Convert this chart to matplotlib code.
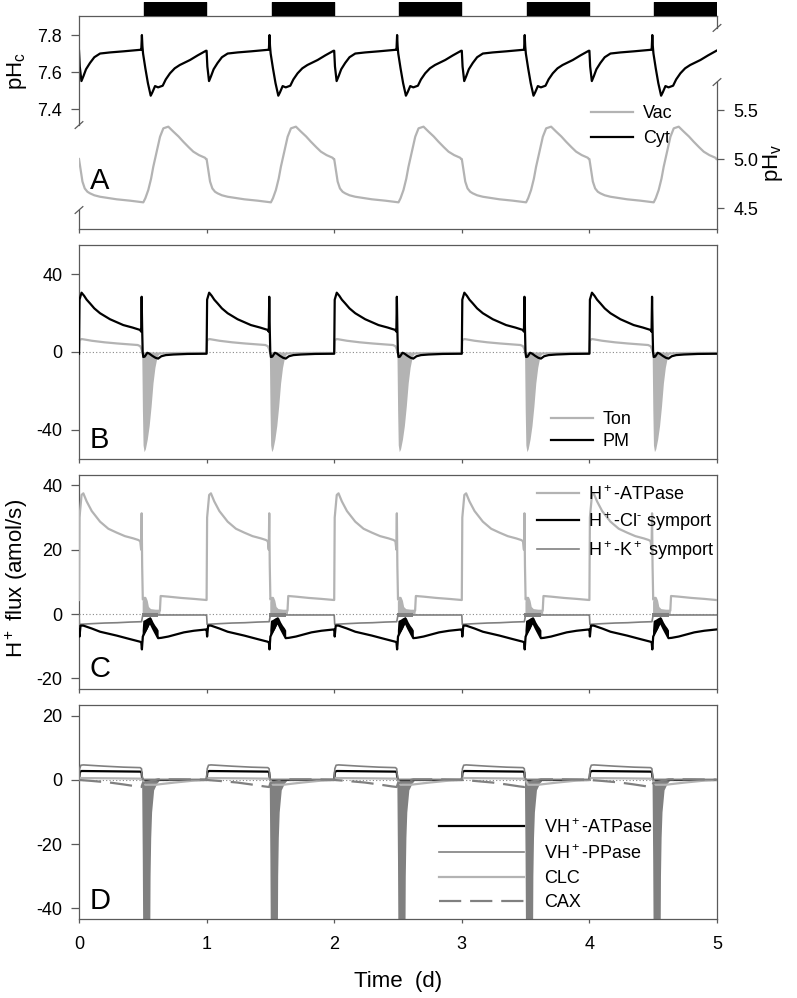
import numpy as np
import matplotlib.pyplot as plt

plt.rcParams['font.family'] = ['Liberation Sans', 'DejaVu Sans']
plt.rcParams['mathtext.fontset'] = 'custom'
plt.rcParams['mathtext.rm'] = 'Liberation Sans'
plt.rcParams['mathtext.it'] = 'Liberation Sans:italic'
plt.rcParams['mathtext.default'] = 'regular'
plt.rcParams['axes.unicode_minus'] = False

N_DAYS = 5
dark_start = [0.51, 1.51, 2.51, 3.51, 4.51]
dark_len = 0.485

# --- one daily cycle of each trace (t in days) ---
# A: cytosolic pH (left axis) and vacuolar pH (right axis)
phc_t = [0.0, 0.006, 0.019, 0.035, 0.055, 0.086, 0.12, 0.165, 0.243, 0.35, 0.478, 0.488, 0.493,
         0.497, 0.502, 0.52, 0.54, 0.562, 0.575, 0.596, 0.62, 0.656, 0.68, 0.713, 0.75, 0.79,
         0.87, 0.93, 0.995]
phc_v = [7.715, 7.63, 7.551, 7.578, 7.615, 7.649, 7.68, 7.70, 7.706, 7.712, 7.72, 7.72, 7.80,
         7.74, 7.70, 7.62, 7.54, 7.472, 7.49, 7.524, 7.517, 7.526, 7.56, 7.593, 7.62, 7.638,
         7.665, 7.69, 7.715]
vac_t = [0.0, 0.006, 0.027, 0.045, 0.066, 0.086, 0.12, 0.165, 0.295, 0.40, 0.504, 0.52, 0.543,
         0.565, 0.582, 0.61, 0.635, 0.661, 0.70, 0.739, 0.78, 0.817, 0.86, 0.896, 0.94, 0.987, 0.995]
vac_v = [5.00, 4.95, 4.77, 4.70, 4.666, 4.65, 4.63, 4.615, 4.589, 4.575, 4.558, 4.60, 4.684,
         4.80, 4.92, 5.08, 5.227, 5.313, 5.33, 5.28, 5.23, 5.177, 5.12, 5.075, 5.04, 5.013, 5.00]

# B: tonoplast and plasma membrane flux
pm_t = [0.0, 0.004, 0.02, 0.04, 0.06, 0.086, 0.12, 0.165, 0.243, 0.347, 0.42, 0.478, 0.487,
        0.491, 0.495, 0.499, 0.504, 0.515, 0.535, 0.55, 0.575, 0.60, 0.62, 0.645, 0.68, 0.74,
        0.85, 0.995]
pm_v = [-0.9, 27, 30.6, 29, 27, 25.1, 22.5, 20, 16.9, 13.9, 12.6, 11.4, 10.5, 28.5, 12, 0,
        -2.6, -2.4, -0.4, -0.8, -2.0, -3.0, -3.4, -2.2, -1.6, -1.3, -1.0, -0.9]
ton_t = [0.0, 0.004, 0.02, 0.1, 0.2, 0.3, 0.4, 0.46, 0.48, 0.49, 0.50, 0.53, 0.58, 0.62, 0.7,
         0.8, 0.995]
ton_v = [-0.5, 6.0, 6.7, 5.8, 5.0, 4.4, 3.9, 3.6, 3.0, 1.5, -0.8, -0.6, -0.8, -0.8, -0.6,
         -0.5, -0.5]
ton_fill_t = [0.492, 0.497, 0.502, 0.51, 0.52, 0.535, 0.55, 0.565, 0.58, 0.595, 0.61, 0.625]
ton_fill_lo = [-2, -30, -48, -51.4, -50, -45, -38, -28, -16, -8, -3, -1]
ton_fill_hi = [-0.5, -0.5, -0.5, -0.5, -0.5, -0.5, -0.5, -0.5, -0.5, -0.5, -0.5, -0.5]

# C: plasma membrane transporters
atp_t = [0.0, 0.004, 0.02, 0.034, 0.06, 0.1, 0.165, 0.23, 0.295, 0.36, 0.426, 0.465, 0.48,
         0.487, 0.491, 0.495, 0.50, 0.51, 0.52, 0.53, 0.54, 0.56, 0.60, 0.634, 0.64, 0.7, 0.8,
         0.9, 0.995]
atp_v = [4.35, 30, 37, 37.5, 35, 32, 28.7, 26.5, 25.3, 24.2, 23.5, 23, 22.6, 20, 31.3, 15, 4.5,
         5.0, 5.0, 4.0, 2.0, 1.2, 1.0, 1.0, 5.6, 5.4, 5.0, 4.7, 4.35]
atp_fill_t = [0.495, 0.50, 0.51, 0.52, 0.53, 0.54, 0.56, 0.60, 0.634]
atp_fill_lo = [0, 0, 0, 0, 0, 0, 0, 0, 0]
atp_fill_hi = [4, 4.5, 5.0, 5.0, 4.0, 2.0, 1.2, 1.0, 1.0]
cl_t = [0.0, 0.004, 0.012, 0.034, 0.1, 0.165, 0.295, 0.4, 0.478, 0.488, 0.493, 0.50, 0.53,
        0.556, 0.58, 0.60, 0.62, 0.645, 0.7, 0.822, 0.9, 0.995]
cl_v = [-4.8, -7.0, -3.6, -3.6, -4.5, -5.5, -6.7, -7.8, -8.6, -8.8, -11.0, -7.0, -4.5, -2.5,
        -4.5, -6.0, -7.5, -7.4, -7.0, -5.7, -5.2, -4.8]
cl_fill_t = [0.495, 0.50, 0.51, 0.52, 0.535, 0.55, 0.556, 0.565, 0.58, 0.595, 0.61, 0.62]
cl_fill_hi = [-5, -2.0, -1.8, -1.6, -1.2, -0.9, -0.8, -1.2, -2.5, -3.5, -4.3, -5]
cl_fill_lo = [-11, -7, -6, -5.5, -4.5, -3, -2.5, -3.0, -4.5, -6.0, -7.0, -7.5]
k_t = [0.0, 0.004, 0.1, 0.2, 0.3, 0.4, 0.478, 0.49, 0.50, 0.62, 0.995]
k_v = [-0.3, -3.2, -3.0, -2.8, -2.7, -2.5, -2.4, -2.4, -0.3, -0.3, -0.3]
k_fill_t = [0.49, 0.62]
k_fill_lo = [-1.0, -1.0]
k_fill_hi = [0.3, 0.3]

# D: tonoplast transporters
va_t = [0.0, 0.006, 0.02, 0.48, 0.49, 0.495, 0.5, 0.995]
va_v = [0.0, 2.5, 2.8, 2.6, 2.4, 0.5, 0.0, 0.0]
pp_t = [0.0, 0.005, 0.015, 0.034, 0.2, 0.35, 0.48, 0.49, 0.495, 0.5, 0.995]
pp_v = [0.1, 3.5, 4.6, 4.7, 4.3, 4.0, 3.85, 3.5, 1.0, 0.1, 0.1]
clc_t = [0.0, 0.01, 0.3, 0.49, 0.50, 0.52, 0.6, 0.64, 0.75, 0.9, 0.995]
clc_v = [0.0, 0.6, 0.5, 0.4, 0.0, -1.5, -1.5, -1.3, -0.8, -0.2, 0.0]
cax_t = [0.0, 0.1, 0.24, 0.35, 0.45, 0.49, 0.50, 0.62, 0.8, 0.995]
cax_v = [0.0, -0.3, -0.8, -1.4, -2.0, -2.2, -1.0, 0.2, 0.2, 0.1]
cax_fill_t = [0.491, 0.496, 0.501, 0.553, 0.557, 0.562, 0.569, 0.585, 0.61, 0.625]
cax_fill_lo = [-1, -25, -60, -60, -30, -18, -10, -3.1, -1, -0.3]
cax_fill_hi = [0, 0, 0, 0, 0, 0, 0, 0, 0, 0]

LIGHT = '#b3b3b3'
MID = '#808080'
SPINE = '#5a5a5a'


def days(t, v):
    t = np.asarray(t)
    tt = np.concatenate([t + d for d in range(N_DAYS)])
    return tt, np.tile(v, N_DAYS)


def fill_days(ax, t, lo, hi, color, z=2):
    for d in range(N_DAYS):
        ax.fill_between(np.asarray(t) + d, lo, hi, color=color, lw=0, zorder=z)


def style(ax, ylim, yticks):
    ax.set_xlim(0, 5)
    ax.set_ylim(*ylim)
    ax.set_yticks(yticks)
    ax.set_xticks(range(6))
    for s in ax.spines.values():
        s.set_color(SPINE)
        s.set_linewidth(0.9)
    ax.tick_params(axis='y', direction='out', length=6, width=0.9, color=SPINE,
                   labelsize=13, pad=6)
    ax.tick_params(axis='x', direction='out', length=3, width=0.9, color=SPINE,
                   labelsize=13, pad=9)


fig = plt.figure(figsize=(7.97, 9.98), dpi=100)
L, W = 79 / 797, 638 / 797
axA = fig.add_axes([L, 1 - 229 / 998, W, 213 / 998])
axB = fig.add_axes([L, 1 - 459 / 998, W, 214 / 998])
axC = fig.add_axes([L, 1 - 689 / 998, W, 214 / 998])
axD = fig.add_axes([L, 1 - 919 / 998, W, 214 / 998])
axBar = fig.add_axes([L, 1 - 16 / 998, W, 14 / 998])

# light/dark bars
axBar.broken_barh([(s, dark_len) for s in dark_start], (0, 1), color='black')
axBar.set_xlim(0, 5)
axBar.set_ylim(0, 1)
axBar.axis('off')

# ---- Panel A ----
style(axA, (6.751, 7.903), [7.4, 7.6, 7.8])
axA.set_yticklabels(['7.4', '7.6', '7.8'])
axA.set_xticklabels([])
axV = axA.twinx()
axV.set_ylim(4.286, 6.459)
axV.set_yticks([4.5, 5.0, 5.5])
axV.set_yticklabels(['4.5', '5.0', '5.5'])
axV.tick_params(axis='y', direction='out', length=5, width=0.9, color=SPINE, labelsize=13, pad=7)
for k in ['left', 'top', 'bottom']:
    axV.spines[k].set_visible(False)
axA.spines['right'].set_visible(False)
axV.spines['right'].set_color(SPINE)
axV.spines['right'].set_linewidth(0.9)
axV.spines['right'].set_bounds(4.286, 5.786)
axA.spines['left'].set_bounds(7.314, 7.903)
# broken-axis pieces
axA.plot([0, 0], [0, 0.089], transform=axA.transAxes, color=SPINE, lw=0.9, clip_on=False)
axA.plot([1, 1], [0.944, 1], transform=axA.transAxes, color=SPINE, lw=0.9, clip_on=False)
dx, dy = 0.006, 0.016
for (x, y) in [(0, 0.488), (0, 0.089), (1, 0.944), (1, 0.69)]:
    axA.plot([x - dx, x + dx], [y - dy, y + dy], transform=axA.transAxes, color=SPINE,
             lw=0.9, clip_on=False)

t, v = days(vac_t, vac_v)
lv, = axV.plot(t, v, color=LIGHT, lw=1.6)
t, v = days(phc_t, phc_v)
lc, = axA.plot(t, v, color='black', lw=1.6)
axA.legend([lv, lc], ['Vac', 'Cyt'], loc='upper left', bbox_to_anchor=(591 / 797, 1 - 105 / 998),
           bbox_transform=fig.transFigure, frameon=False, borderpad=0, borderaxespad=0,
           handlelength=2.3, handletextpad=0.6, labelspacing=0.45, fontsize=13)
axA.text(0.017, 0.19, 'A', transform=axA.transAxes, fontsize=21, va='baseline')

# ---- Panel B ----
style(axB, (-55.2, 55.2), [-40, 0, 40])
axB.set_xticklabels([])
axB.axhline(0, color='#888888', ls=(0, (1, 2)), lw=0.8, zorder=1)
fill_days(axB, ton_fill_t, ton_fill_lo, ton_fill_hi, LIGHT)
t, v = days(ton_t, ton_v)
lt, = axB.plot(t, v, color=LIGHT, lw=1.6, zorder=3)
t, v = days(pm_t, pm_v)
lp, = axB.plot(t, v, color='black', lw=1.6, zorder=4)
axB.legend([lt, lp], ['Ton', 'PM'], loc='upper left', bbox_to_anchor=(551 / 797, 1 - 411 / 998),
           bbox_transform=fig.transFigure, frameon=False, borderpad=0, borderaxespad=0,
           handlelength=2.3, handletextpad=0.55, labelspacing=0.3, fontsize=13)
axB.text(0.017, 0.05, 'B', transform=axB.transAxes, fontsize=21, va='baseline')

# ---- Panel C ----
style(axC, (-23.3, 43.2), [-20, 0, 20, 40])
axC.set_xticklabels([])
axC.axhline(0, color='#888888', ls=(0, (1, 2)), lw=0.8, zorder=1)
fill_days(axC, atp_fill_t, atp_fill_lo, atp_fill_hi, LIGHT)
t, v = days(atp_t, atp_v)
la, = axC.plot(t, v, color=LIGHT, lw=1.6, zorder=3)
fill_days(axC, k_fill_t, k_fill_lo, k_fill_hi, MID, z=3)
t, v = days(k_t, k_v)
lk, = axC.plot(t, v, color=MID, lw=1.2, zorder=3)
fill_days(axC, cl_fill_t, cl_fill_lo, cl_fill_hi, 'black', z=4)
t, v = days(cl_t, cl_v)
lcl, = axC.plot(t, v, color='black', lw=1.6, zorder=4)
axC.legend([la, lcl, lk],
           ['H$^+$-ATPase', r'H$^+$-Cl$^{\text{-}}$ symport', 'H$^+$-K$^+$ symport'],
           loc='upper left', bbox_to_anchor=(537 / 797, 1 - 485 / 998),
           bbox_transform=fig.transFigure, frameon=False, borderpad=0, borderaxespad=0,
           handlelength=2.3, handletextpad=0.55, labelspacing=0.35, fontsize=13)
axC.text(0.017, 0.056, 'C', transform=axC.transAxes, fontsize=21, va='baseline')

# ---- Panel D ----
style(axD, (-43.4, 23.4), [-40, -20, 0, 20])
axD.axhline(0, color='#888888', ls=(0, (1, 2)), lw=0.8, zorder=1)
fill_days(axD, cax_fill_t, cax_fill_lo, cax_fill_hi, MID)
t, v = days(va_t, va_v)
lva, = axD.plot(t, v, color='black', lw=1.6, zorder=3)
t, v = days(clc_t, clc_v)
lclc, = axD.plot(t, v, color=LIGHT, lw=1.6, zorder=4)
t, v = days(cax_t, cax_v)
lcax, = axD.plot(t, v, color=MID, lw=1.6, dashes=(10, 4), zorder=4)
t, v = days(pp_t, pp_v)
lpp, = axD.plot(t, v, color=MID, lw=1.2, zorder=5)
axD.legend([lva, lpp, lclc, lcax], ['VH$^+$-ATPase', 'VH$^+$-PPase', 'CLC', 'CAX'],
           loc='upper left', bbox_to_anchor=(439 / 797, 1 - 818 / 998),
           bbox_transform=fig.transFigure, frameon=False, borderpad=0, borderaxespad=0,
           handlelength=4.7, handletextpad=1.1, labelspacing=0.4, fontsize=13)
axD.text(0.017, 0.047, 'D', transform=axD.transAxes, fontsize=21, va='baseline')

# axis labels
fig.text(17 / 797, 1 - 71 / 998, 'pH$_c$', rotation=90, ha='center', va='center', fontsize=16)
fig.text(773 / 797, 1 - 163 / 998, 'pH$_v$', rotation=90, ha='center', va='center', fontsize=16)
fig.text(17 / 797, 1 - 578 / 998, 'H$^+$ flux (amol/s)', rotation=90, ha='center', va='center',
         fontsize=16)
fig.text(398 / 797, 1 - 981 / 998, 'Time  (d)', ha='center', va='center', fontsize=16)

fig.savefig('out.png', dpi=100)
